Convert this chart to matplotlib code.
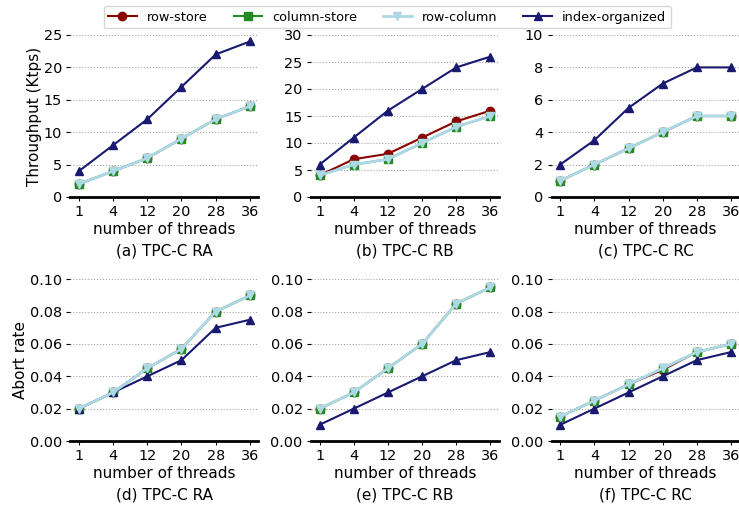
import matplotlib
matplotlib.use("Agg")
import matplotlib.pyplot as plt

threads = ["1", "4", "12", "20", "28", "36"]
labels = ["row-store", "column-store", "row-column", "index-organized"]
colors = ["darkred", "forestgreen", "lightblue", "midnightblue"]
markers = ["o", "s", "v", "^"]

# throughput (Ktps)
tp_ra = [[2, 4, 6, 9, 12, 14], [2, 4, 6, 9, 12, 14], [2, 4, 6, 9, 12, 14], [4, 8, 12, 17, 22, 24]]
tp_rb = [[4, 7, 8, 11, 14, 16], [4, 6, 7, 10, 13, 15], [4, 6, 7, 10, 13, 15], [6, 11, 16, 20, 24, 26]]
tp_rc = [[1, 2, 3, 4, 5, 5], [1, 2, 3, 4, 5, 5], [1, 2, 3, 4, 5, 5], [2, 3.5, 5.5, 7, 8, 8]]

# abort rate
ab_ra = [[0.02, 0.03, 0.045, 0.057, 0.08, 0.09], [0.02, 0.03, 0.045, 0.057, 0.08, 0.09],
         [0.02, 0.03, 0.045, 0.057, 0.08, 0.09], [0.02, 0.03, 0.04, 0.05, 0.07, 0.075]]
ab_rb = [[0.02, 0.03, 0.045, 0.06, 0.085, 0.095], [0.02, 0.03, 0.045, 0.06, 0.085, 0.095],
         [0.02, 0.03, 0.045, 0.06, 0.085, 0.095], [0.01, 0.02, 0.03, 0.04, 0.05, 0.055]]
ab_rc = [[0.015, 0.025, 0.035, 0.044, 0.055, 0.06], [0.015, 0.025, 0.035, 0.045, 0.055, 0.06],
         [0.015, 0.025, 0.035, 0.045, 0.055, 0.06], [0.01, 0.02, 0.03, 0.04, 0.05, 0.055]]

panels = [
    (tp_ra, "(a) TPC-C RA", 25, [0, 5, 10, 15, 20, 25], "{:g}"),
    (tp_rb, "(b) TPC-C RB", 30, [0, 5, 10, 15, 20, 25, 30], "{:g}"),
    (tp_rc, "(c) TPC-C RC", 10, [0, 2, 4, 6, 8, 10], "{:g}"),
    (ab_ra, "(d) TPC-C RA", 0.10, [0, 0.02, 0.04, 0.06, 0.08, 0.10], "{:.2f}"),
    (ab_rb, "(e) TPC-C RB", 0.10, [0, 0.02, 0.04, 0.06, 0.08, 0.10], "{:.2f}"),
    (ab_rc, "(f) TPC-C RC", 0.10, [0, 0.02, 0.04, 0.06, 0.08, 0.10], "{:.2f}"),
]

W, H = 739, 511
fig = plt.figure(figsize=(W / 100, H / 100), dpi=100)

lefts = [70.4, 311.0, 551.6]
tops = [35, 279.3]
bottoms = [197, 441]
aw = 188

x = list(range(len(threads)))
handles = []
for i, (data, title, ymax, yt, fmt) in enumerate(panels):
    r, c = divmod(i, 3)
    ax = fig.add_axes([lefts[c] / W, 1 - bottoms[r] / H, aw / W, (bottoms[r] - tops[r]) / H])
    for k in range(4):
        lw = 2.0 if k == 2 else 1.5
        h, = ax.plot(x, data[k], color=colors[k], marker=markers[k], markersize=6,
                     linewidth=lw, label=labels[k], zorder=3 + (k == 2))
        if i == 0:
            handles.append(h)
    ax.set_xlim(-0.25, 5.25)
    ax.set_ylim(0, ymax)
    ax.set_xticks(x)
    ax.set_xticklabels(threads)
    ax.set_yticks(yt)
    ax.set_yticklabels([fmt.format(v) for v in yt])
    ax.tick_params(labelsize=10.4, length=3, pad=3)
    ax.grid(axis="y", linestyle=":", color="gray", linewidth=0.8, alpha=0.7)
    for s in ["top", "right", "left"]:
        ax.spines[s].set_visible(False)
    ax.spines["bottom"].set_linewidth(2)
    ax.set_xlabel("number of threads\n" + title, fontsize=11, linespacing=1.55, labelpad=2)
    if c == 0:
        ax.set_ylabel("Throughput (Ktps)" if r == 0 else "Abort rate", fontsize=11, labelpad=1.5)

fig.legend(handles=handles, loc="upper center", ncol=4, bbox_to_anchor=(0.524, 1.0),
           fontsize=9.3, frameon=True, handlelength=2.2, columnspacing=2.0,
           borderpad=0.35, handletextpad=0.8)

fig.savefig("out.png", dpi=100)
